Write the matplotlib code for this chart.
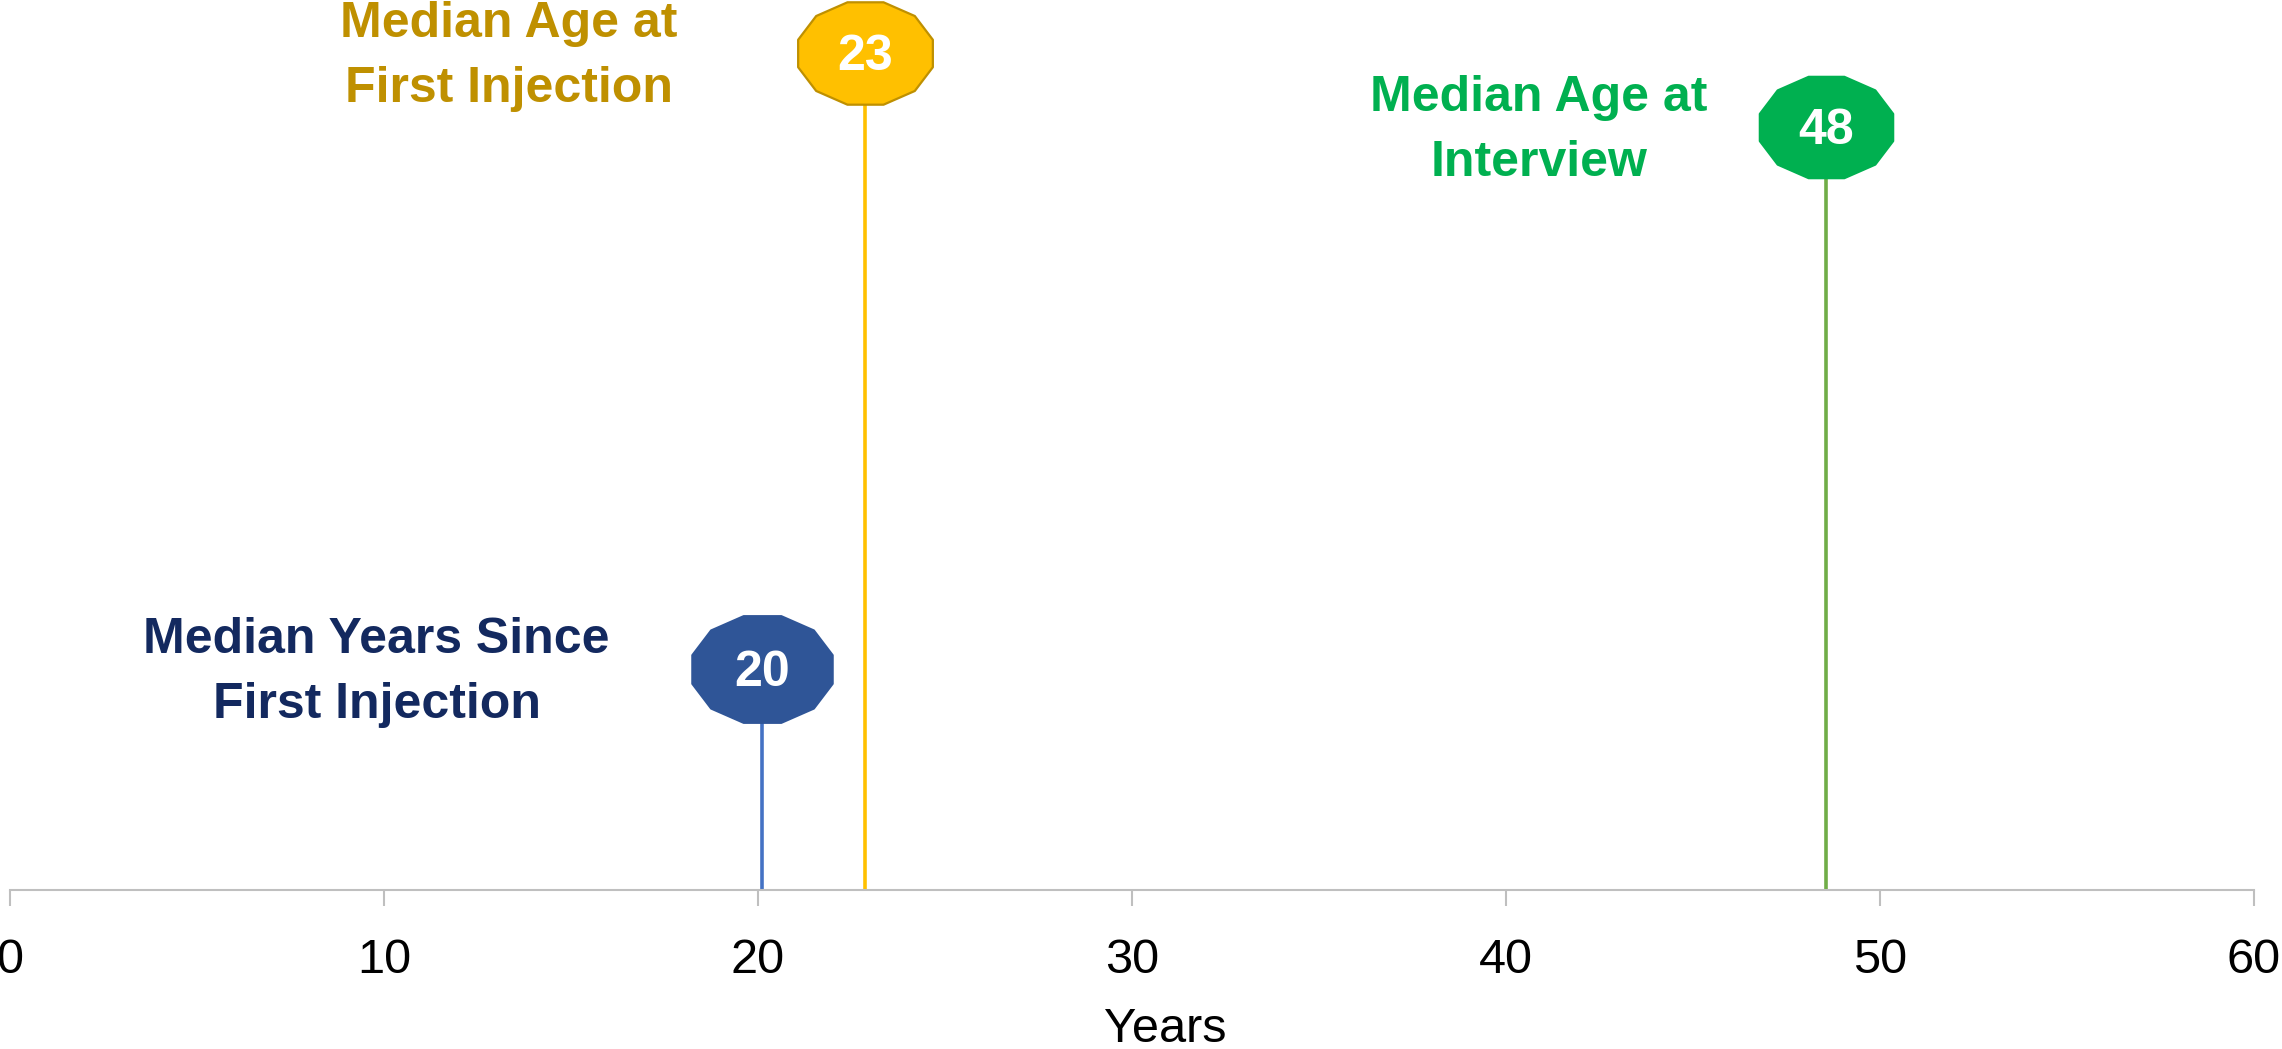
import numpy as np
from matplotlib import pyplot as plt
from matplotlib.path import Path

# data
measures = ['Median Years Since\nFirst Injection',
            'Median Age at\nFirst Injection',
            'Median Age at\nInterview']
years = [20.1, 22.85, 48.55]          # x position (years)
heights = [0.248, 0.940, 0.857]       # stem height (arbitrary units)
value_labels = ['20', '23', '48']

# styles
stem_colors = ['#4472C4', '#FFC000', '#70AD47']
fill_colors = ['#2F5597', '#FFC000', '#00B050']
edge_colors = ['#2F5597', '#BF9000', '#00B050']
text_colors = ['#13295F', '#BF9000', '#00B050']
marker_sizes = [101, 97, 96]          # points (marker width)
label_dx = [-385, -356, -287]         # label centre offset from marker, pixels

plt.rcParams['font.family'] = ['Liberation Sans', 'DejaVu Sans']

# stretched 12-gon marker, like the reference
ang = np.deg2rad(15 + 30 * np.arange(12))
verts = np.column_stack([np.cos(ang) / np.cos(np.deg2rad(15)),
                         0.76 * np.sin(ang) / np.cos(np.deg2rad(15))])
verts = np.vstack([verts, verts[:1]])
dodecagon = Path(verts, [Path.MOVETO] + [Path.LINETO] * 11 + [Path.CLOSEPOLY])

fig = plt.figure(figsize=(22.82, 10.49), dpi=100)
ax = fig.add_axes([10 / 2282, 1 - 890 / 1049, 2244 / 2282, 890 / 1049])

for i in range(len(years)):
    ax.vlines(years[i], 0, heights[i], colors=stem_colors[i], lw=2.6, zorder=2)
    ax.plot(years[i], heights[i], marker=dodecagon, ms=marker_sizes[i],
            mfc=fill_colors[i], mec=edge_colors[i], mew=1.6, zorder=3,
            clip_on=False)
    ax.annotate(value_labels[i], (years[i], heights[i]), xytext=(0, -17),
                textcoords='offset pixels', ha='center', va='baseline',
                color='white', fontsize=36, fontweight='bold', zorder=4)
    line1, line2 = measures[i].split('\n')
    ax.annotate(line1, (years[i], heights[i]), xytext=(label_dx[i], 16),
                textcoords='offset pixels', ha='center', va='baseline',
                color=text_colors[i], fontsize=36, fontweight='bold')
    ax.annotate(line2, (years[i], heights[i]), xytext=(label_dx[i], -49),
                textcoords='offset pixels', ha='center', va='baseline',
                color=text_colors[i], fontsize=36, fontweight='bold')

ax.set_xlim(0, 60)
ax.set_ylim(0, 1)
ax.set_xticks(np.arange(0, 61, 10))
ax.set_yticks([])
for s in ['left', 'right', 'top']:
    ax.spines[s].set_visible(False)
ax.spines['bottom'].set_color('#BFBFBF')
ax.spines['bottom'].set_linewidth(1.5)
ax.tick_params(axis='x', direction='out', length=11.5, width=1.5,
               color='#BFBFBF', pad=23, labelsize=35, labelcolor='black')
ax.set_xlabel('Years', fontsize=35)
ax.xaxis.set_label_coords(0.515, -0.131)

fig.savefig('out.png', dpi=100)
